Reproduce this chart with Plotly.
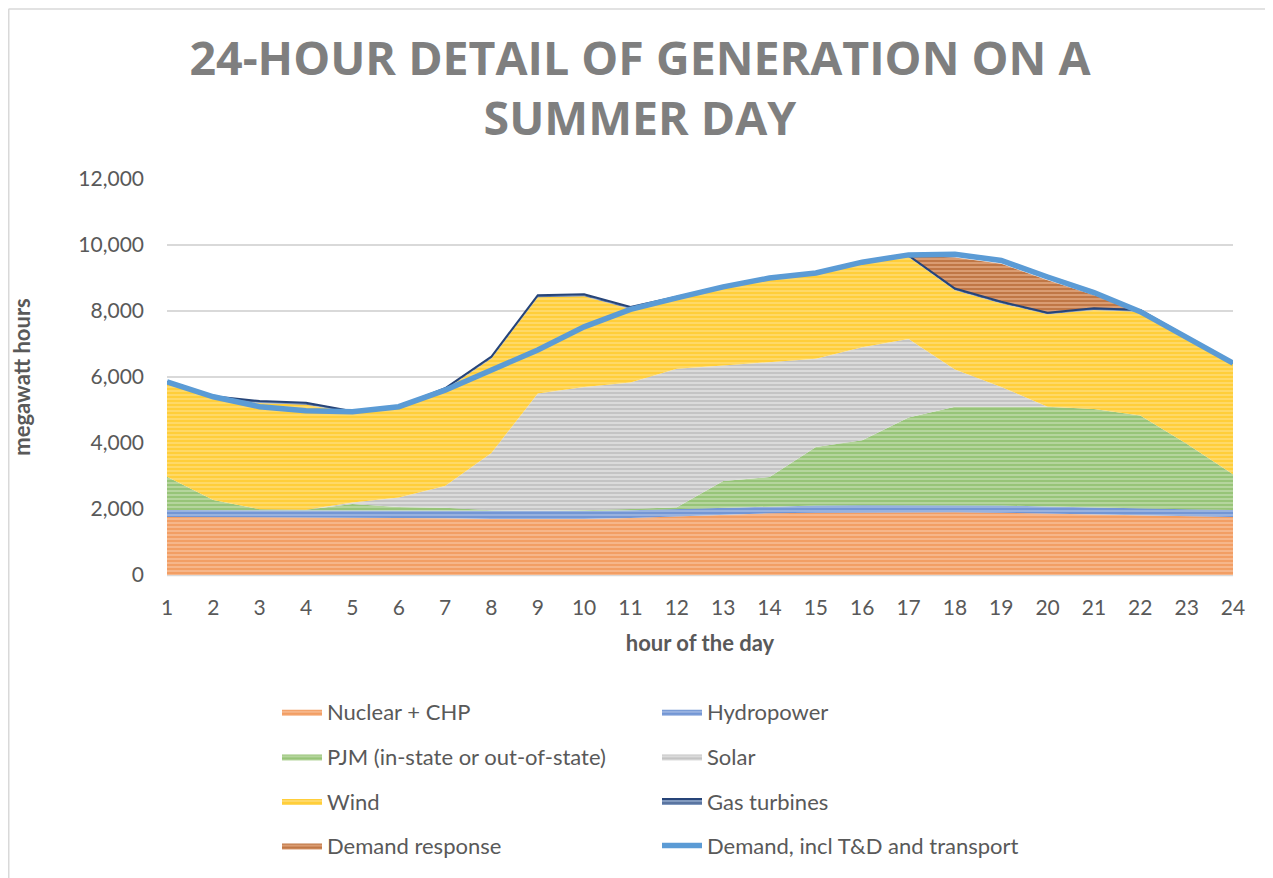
import plotly.graph_objects as go

hours = list(range(1, 25))

nuclear_chp = [1760, 1755, 1750, 1745, 1740, 1730, 1720, 1700, 1690, 1700, 1730, 1780,
               1830, 1870, 1890, 1900, 1900, 1900, 1890, 1860, 1830, 1800, 1780, 1760]
hydropower = [210, 210, 210, 210, 210, 215, 220, 230, 240, 240, 230, 220,
              215, 215, 215, 215, 215, 215, 215, 215, 210, 210, 210, 210]
pjm = [1010, 305, 30, 25, 200, 115, 100, 30, 20, 20, 40, 50,
       805, 885, 1775, 1965, 2655, 2985, 2995, 3025, 2990, 2820, 1990, 1080]
solar = [0, 0, 0, 0, 50, 290, 660, 1740, 3550, 3740, 3830, 4200,
         3500, 3480, 2670, 2820, 2380, 1130, 600, 0, 0, 0, 0, 0]
wind = [2840, 3100, 3220, 3180, 2730, 2730, 2910, 2860, 2920, 2750, 2230, 2130,
        2360, 2530, 2570, 2540, 2490, 2400, 2530, 2800, 3000, 3150, 3220, 3350]
gas_turbines = [30, 50, 60, 60, 30, 30, 50, 60, 60, 60, 60, 60,
                30, 30, 30, 30, 40, 50, 50, 50, 50, 50, 30, 30]
demand_response = [0, 0, 0, 0, 0, 0, 0, 0, 0, 0, 0, 0,
                   0, 0, 0, 0, 0, 940, 1150, 980, 400, 0, 0, 0]
demand = [5850, 5400, 5100, 4980, 4950, 5100, 5600, 6200, 6820, 7520, 8050, 8400,
          8730, 9000, 9150, 9480, 9700, 9720, 9530, 9030, 8560, 7980, 7220, 6420]

y_ticks = [0, 2000, 4000, 6000, 8000, 10000, 12000]
y_tick_labels = ["0", "2,000", "4,000", "6,000", "8,000", "10,000", "12,000"]

# the page body adds an 8 px offset, so the figure is sized to fit the window
W, H = 1265, 870
PL, PR, PT, PB = 159, 1225, 171, 567  # plot area edges in figure pixels


def px(p):
    return (p - PL) / (PR - PL)


def py(p):
    return (PB - p) / (PB - PT)


FONT = "Lato"
TXT = "#595959"

series = [
    ("Nuclear + CHP", nuclear_chp, "#ED7D31", "#F7BE96", "legend", "g1"),
    ("Hydropower", hydropower, "#4472C4", "#A3BBE4", "legend2", "g2"),
    ("PJM (in-state or out-of-state)", pjm, "#70AD47", "#BEDBA9", "legend", "g3"),
    ("Solar", solar, "#A5A5A5", "#E2E2E2", "legend2", "g4"),
    ("Wind", wind, "#FFC000", "#FFDD75", "legend", "g5"),
    ("Gas turbines", gas_turbines, "#264478", "#8EA5C8", "legend2", "g6"),
    ("Demand response", demand_response, "#9E480E", "#E3A77F", "legend", "g7"),
]

fig = go.Figure()
for name, vals, fg, bg, leg, grp in series:
    lw = 2 if name == "Gas turbines" else 0
    fig.add_trace(go.Scatter(
        x=hours, y=vals, name=name, mode="lines",
        stackgroup="gen",
        line=dict(width=lw, color=fg),
        fillcolor=bg,
        fillpattern=dict(shape="-", fgcolor=fg, bgcolor=bg, size=4, solidity=0.62),
        legend=leg, legendgroup=grp,
        hoverinfo="skip",
    ))

fig.add_trace(go.Scatter(
    x=hours, y=demand, name="Demand, incl T&D and transport", mode="lines",
    line=dict(color="#5B9BD5", width=5.5),
    legend="legend2", legendgroup="g8", hoverinfo="skip",
))

legend_common = dict(
    orientation="v", traceorder="grouped", tracegroupgap=13,
    font=dict(family=FONT, size=22, color=TXT),
    bgcolor="rgba(0,0,0,0)", itemwidth=40,
    yanchor="top", xanchor="left",
)

fig.update_layout(
    width=W, height=H,
    margin=dict(l=PL, r=W - PR, t=PT, b=H - PB, pad=0, autoexpand=False),
    paper_bgcolor="white", plot_bgcolor="white",
    title=dict(
        text="24-HOUR DETAIL OF GENERATION ON A<br>SUMMER DAY",
        font=dict(family="Open Sans", size=46.5, color="#7F7F7F", weight="bold"),
        x=632 / W, xanchor="center", xref="container",
        y=1 - 67 / H, yanchor="top",
    ),
    xaxis=dict(
        range=[1, 24], tickvals=hours, ticktext=[str(h) for h in hours],
        showgrid=False, zeroline=False, showline=False,
        ticks="", ticklabelstandoff=18,
        tickfont=dict(family=FONT, size=21, color=TXT),
        title=dict(text="hour of the day", standoff=17,
                   font=dict(family=FONT, size=22, color=TXT, weight="bold")),
    ),
    yaxis=dict(
        range=[0, 12000], tickvals=y_ticks, ticktext=y_tick_labels,
        showgrid=True, gridcolor="#D9D9D9", gridwidth=1.5,
        zeroline=False, showline=False, ticks="", ticklabelstandoff=22,
        tickfont=dict(family=FONT, size=21, color=TXT),
        title=dict(text="megawatt hours", standoff=43,
                   font=dict(family=FONT, size=22, color=TXT, weight="bold")),
    ),
    legend=dict(x=px(269), y=py(683), **legend_common),
    legend2=dict(x=px(649), y=py(683), **legend_common),
    showlegend=True,
    shapes=[
        dict(type="line", xref="paper", yref="paper",
             x0=0, x1=1, y0=0, y1=0, line=dict(color="#D9D9D9", width=2.5),
             layer="below"),
        dict(type="line", xref="paper", yref="paper",
             x0=px(0.5), x1=px(0.5), y0=py(1), y1=py(H + 5),
             line=dict(color="#D9D9D9", width=2)),
        dict(type="line", xref="paper", yref="paper",
             x0=px(0.5), x1=px(W + 5), y0=py(1), y1=py(1),
             line=dict(color="#D9D9D9", width=1.5)),
    ],
)

fig.write_html("out.html")
